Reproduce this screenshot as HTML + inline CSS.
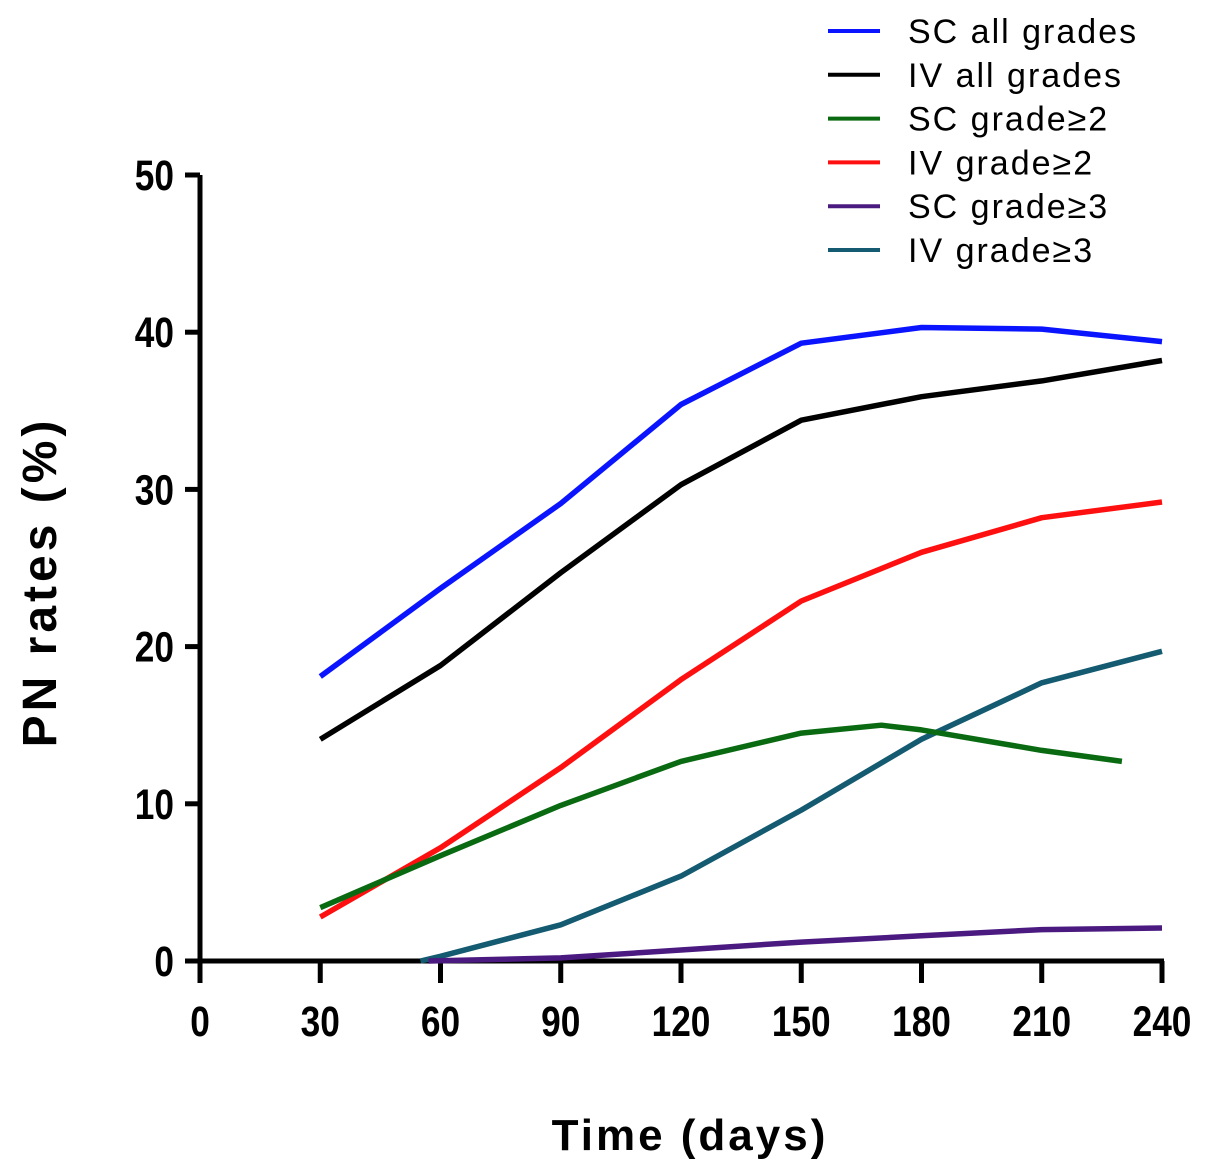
<!DOCTYPE html>
<html><head><meta charset="utf-8"><style>
body{margin:0;background:#fff}
svg{display:block}
text{font-family:"Liberation Sans",Arial,sans-serif}
</style></head><body>
<svg id="chart" width="1205" height="1175">
<g id="axes"></g><g id="series"></g><g id="legend"></g>
<text transform="translate(56,582) rotate(-90)" text-anchor="middle" font-size="48" font-weight="bold" letter-spacing="4">PN rates  (%)</text>
<text x="690" y="1150" text-anchor="middle" font-size="44" font-weight="bold" letter-spacing="3">Time  (days)</text>
</svg>
<script>
const xTicks=[0,30,60,90,120,150,180,210,240];
const yTicks=[0,10,20,30,40,50];
const seriesNames=["SC all grades","IV all grades","SC grade≥2","IV grade≥2","SC grade≥3","IV grade≥3"];
const seriesColors=["#0a14ff","#000000","#0a6a12","#ff1010","#4a1a80","#145a70"];
const scAllX=[30,60,90,120,150,180,210,240];
const scAllY=[18.1,23.7,29.1,35.4,39.3,40.3,40.2,39.4];
const ivAllX=[30,60,90,120,150,180,210,240];
const ivAllY=[14.1,18.8,24.7,30.3,34.4,35.9,36.9,38.2];
const scG2X=[30,60,90,120,150,170,180,210,230];
const scG2Y=[3.4,6.7,9.9,12.7,14.5,15.0,14.7,13.4,12.7];
const ivG2X=[30,60,90,120,150,180,210,240];
const ivG2Y=[2.8,7.2,12.3,17.9,22.9,26.0,28.2,29.2];
const scG3X=[57,90,120,150,180,210,240];
const scG3Y=[0,0.2,0.7,1.2,1.6,2.0,2.1];
const ivG3X=[55,60,90,120,150,180,210,240];
const ivG3Y=[0,0.3,2.3,5.4,9.6,14.1,17.7,19.7];
const allX=[scAllX,ivAllX,scG2X,ivG2X,scG3X,ivG3X];
const allY=[scAllY,ivAllY,scG2Y,ivG2Y,scG3Y,ivG3Y];
const sx=v=>200+v*(962/240);
const sy=v=>961-v*(786/50);
const NS="http://www.w3.org/2000/svg";
function mk(tag,attrs,parent){const e=document.createElementNS(NS,tag);for(const k in attrs)e.setAttribute(k,attrs[k]);parent.appendChild(e);return e;}
const axes=document.getElementById('axes');
let a=mk('line',{x1:sx(0),y1:sy(50),x2:sx(0),y2:sy(0)+2,stroke:'#000','stroke-width':5},axes);


a=mk('line',{x1:sx(0)-2,y1:sy(0),x2:sx(240)+2,y2:sy(0),stroke:'#000','stroke-width':5},axes);


yTicks.forEach(t=>{
 const l=mk('line',{x1:sx(0)-15,y1:sy(t),x2:sx(0),y2:sy(t),stroke:'#000','stroke-width':5},axes);
 
 
 const tx=mk('text',{x:0,y:0,transform:`translate(${sx(0)-26},${sy(t)+15}) scale(0.82,1)`,'text-anchor':'end','font-size':43,'font-weight':'bold'},axes);
 tx.textContent=t;
 
 
});
xTicks.forEach(t=>{
 const l=mk('line',{x1:sx(t),y1:sy(0),x2:sx(t),y2:sy(0)+22,stroke:'#000','stroke-width':5},axes);
 
 
 const tx=mk('text',{x:0,y:0,transform:`translate(${sx(t)},${sy(0)+75}) scale(0.82,1)`,'text-anchor':'middle','font-size':43,'font-weight':'bold'},axes);
 tx.textContent=t;
 
 
});
const sg=document.getElementById('series');
const order=[5,4,3,2,1,0];
order.forEach(i=>{
 const pts=allX[i].map((x,j)=>sx(x).toFixed(1)+','+sy(allY[i][j]).toFixed(1)).join(' ');
 const p=mk('polyline',{points:pts,fill:'none',stroke:seriesColors[i],'stroke-width':5.5,'stroke-linejoin':'round'},sg);
 
 
});
const lg=document.getElementById('legend');
seriesNames.forEach((n,i)=>{
 const y=31+i*43.8;
 const l=mk('line',{x1:828,y1:y,x2:880,y2:y,stroke:seriesColors[i],'stroke-width':4},lg);
 
 
 const t=mk('text',{x:908,y:y+12,'font-size':34,'letter-spacing':'2'},lg);
 t.textContent=n;
 
 
});
</script>
</body></html>
